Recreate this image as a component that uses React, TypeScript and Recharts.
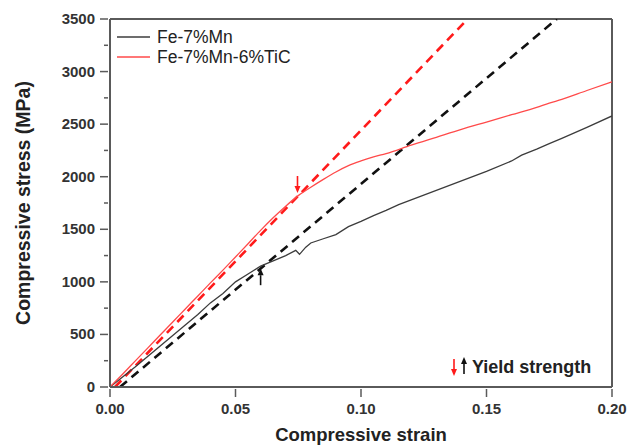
import React from "react";
import {
  ComposedChart,
  Line,
  Scatter,
  XAxis,
  YAxis,
  ReferenceLine,
} from "recharts";

// strain / stress (MPa)
const mnStrain = [0, 0.005, 0.01, 0.015, 0.02, 0.025, 0.03, 0.035, 0.04, 0.045, 0.05, 0.055, 0.06, 0.065, 0.07, 0.074, 0.0755, 0.078, 0.08, 0.085, 0.09, 0.095, 0.1, 0.105, 0.11, 0.115, 0.12, 0.13, 0.14, 0.15, 0.16, 0.164, 0.17, 0.175, 0.18, 0.19, 0.2];
const mnStress = [0, 95, 190, 290, 390, 490, 590, 690, 800, 890, 1000, 1075, 1150, 1200, 1250, 1300, 1262, 1330, 1370, 1410, 1450, 1525, 1575, 1630, 1680, 1735, 1780, 1870, 1960, 2050, 2150, 2205, 2262, 2315, 2365, 2470, 2578];

const ticStrain = [0, 0.005, 0.01, 0.015, 0.02, 0.025, 0.03, 0.035, 0.04, 0.045, 0.05, 0.055, 0.06, 0.065, 0.07, 0.075, 0.08, 0.085, 0.09, 0.095, 0.1, 0.105, 0.11, 0.12, 0.13, 0.14, 0.15, 0.16, 0.17, 0.175, 0.18, 0.19, 0.2];
const ticStress = [0, 122, 246, 370, 495, 618, 742, 866, 990, 1112, 1237, 1362, 1490, 1610, 1720, 1820, 1900, 1975, 2045, 2105, 2150, 2188, 2220, 2300, 2375, 2450, 2520, 2590, 2660, 2700, 2735, 2820, 2902];

// elastic fits (dashed)
const ticFitStrain = [0.002, 0.1425];
const ticFitStress = [0, 3500];
const mnFitStrain = [0.004, 0.178];
const mnFitStress = [0, 3500];

// yield markers
const yieldStrain = [0.0747, 0.06];
const yieldStress = [1845, 1130];
const yieldDir = ["down", "up"];
const yieldColor = ["#ff1a1a", "#111111"];

const yTicks = [0, 250, 500, 750, 1000, 1250, 1500, 1750, 2000, 2250, 2500, 2750, 3000, 3250, 3500];
const xTicks = [0, 0.05, 0.1, 0.15, 0.2];

const zip = (xs: number[], ys: number[]) => xs.map((x, i) => ({ x, y: ys[i] }));
const mnData = zip(mnStrain, mnStress);
const ticData = zip(ticStrain, ticStress);
const ticFit = zip(ticFitStrain, ticFitStress);
const mnFit = zip(mnFitStrain, mnFitStress);
const yieldData = yieldStrain.map((x, i) => ({ x, y: yieldStress[i], dir: yieldDir[i], color: yieldColor[i] }));

const FONT = "'Liberation Sans', Arial, sans-serif";
const AXIS = "#5a5a5a";

function Arrow({ x, y, dir, color }: { x: number; y: number; dir: string; color: string }) {
  // tip at (x, y)
  const len = 17;
  const s = dir === "down" ? -1 : 1;
  const tail = y + s * len;
  const head = y + s * 7;
  return (
    <g>
      <line x1={x} y1={tail} x2={x} y2={head} stroke={color} strokeWidth={1.6} />
      <polygon points={`${x},${y} ${x - 3},${head} ${x + 3},${head}`} fill={color} />
    </g>
  );
}

const ArrowShape = (p: any) => (
  <Arrow x={p.cx} y={p.cy} dir={p.payload.dir} color={p.payload.color} />
);

const YTick = (p: any) => {
  const v = p.payload.value;
  const major = v % 500 === 0;
  return (
    <g>
      <line x1={p.x + 8 - (major ? 8 : 4)} y1={p.y} x2={p.x + 8} y2={p.y} stroke={AXIS} strokeWidth={1.5} />
      {major && (
        <text x={p.x - 5} y={p.y} dy={5} textAnchor="end" fontFamily={FONT} fontWeight="bold" fontSize={15} fill="#333">
          {v}
        </text>
      )}
    </g>
  );
};

const XTick = (p: any) => (
  <g>
    <line x1={p.x} y1={p.y - 8} x2={p.x} y2={p.y} stroke={AXIS} strokeWidth={1.5} />
    <text x={p.x} y={p.y + 17} textAnchor="middle" fontFamily={FONT} fontWeight="bold" fontSize={15} fill="#333">
      {p.payload.value.toFixed(2)}
    </text>
  </g>
);

export default function App() {
  return (
    <div style={{ position: "absolute", left: 0, top: 0, width: 640, height: 448, background: "#fff", overflow: "hidden" }}>
      <ComposedChart width={640} height={448} margin={{ top: 19, right: 28, bottom: 0, left: 0 }}>
        <XAxis
          type="number"
          dataKey="x"
          domain={[0, 0.2]}
          ticks={xTicks}
          interval={0}
          tick={<XTick />}
          tickLine={false}
          tickSize={8}
          height={61}
          axisLine={{ stroke: AXIS, strokeWidth: 2 }}
          allowDataOverflow
        />
        <YAxis
          type="number"
          dataKey="y"
          domain={[0, 3500]}
          ticks={yTicks}
          interval={0}
          tick={<YTick />}
          tickLine={false}
          tickSize={8}
          width={110}
          axisLine={{ stroke: AXIS, strokeWidth: 2 }}
          allowDataOverflow
        />
        <ReferenceLine y={3500} stroke={AXIS} strokeWidth={2} />
        <ReferenceLine x={0.2} stroke={AXIS} strokeWidth={2} />
        <Line data={ticFit} dataKey="y" type="linear" stroke="#ff1a1a" strokeWidth={2.6} strokeDasharray="9 6" dot={false} isAnimationActive={false} />
        <Line data={mnFit} dataKey="y" type="linear" stroke="#111" strokeWidth={2.6} strokeDasharray="9 6" dot={false} isAnimationActive={false} />
        <Line data={mnData} dataKey="y" type="linear" stroke="#3c3c3c" strokeWidth={1.3} dot={false} isAnimationActive={false} />
        <Line data={ticData} dataKey="y" type="monotone" stroke="#ff4a4a" strokeWidth={1.3} dot={false} isAnimationActive={false} />
        <Scatter data={yieldData} dataKey="y" shape={ArrowShape} isAnimationActive={false} />
      </ComposedChart>

      <svg width={640} height={448} style={{ position: "absolute", left: 0, top: 0, pointerEvents: "none" }}>
        <text
          transform="translate(30,203) rotate(-90)"
          textAnchor="middle"
          fontFamily={FONT}
          fontWeight="bold"
          fontSize={19.5}
          fill="#222"
        >
          Compressive stress (MPa)
        </text>
        <text x={361} y={441} textAnchor="middle" fontFamily={FONT} fontWeight="bold" fontSize={18.5} fill="#222">
          Compressive strain
        </text>

        <line x1={117} y1={37} x2={150} y2={37} stroke="#3c3c3c" strokeWidth={1.5} />
        <text x={157} y={43} fontFamily={FONT} fontSize={17.5} fill="#222">Fe-7%Mn</text>
        <line x1={117} y1={57} x2={150} y2={57} stroke="#ff4a4a" strokeWidth={1.5} />
        <text x={157} y={63} fontFamily={FONT} fontSize={17.5} fill="#222">Fe-7%Mn-6%TiC</text>

        <Arrow x={454} y={376} dir="down" color="#ff1a1a" />
        <Arrow x={464} y={357} dir="up" color="#111" />
        <text x={472} y={373} fontFamily={FONT} fontWeight="bold" fontSize={18} fill="#222">Yield strength</text>
      </svg>
    </div>
  );
}
